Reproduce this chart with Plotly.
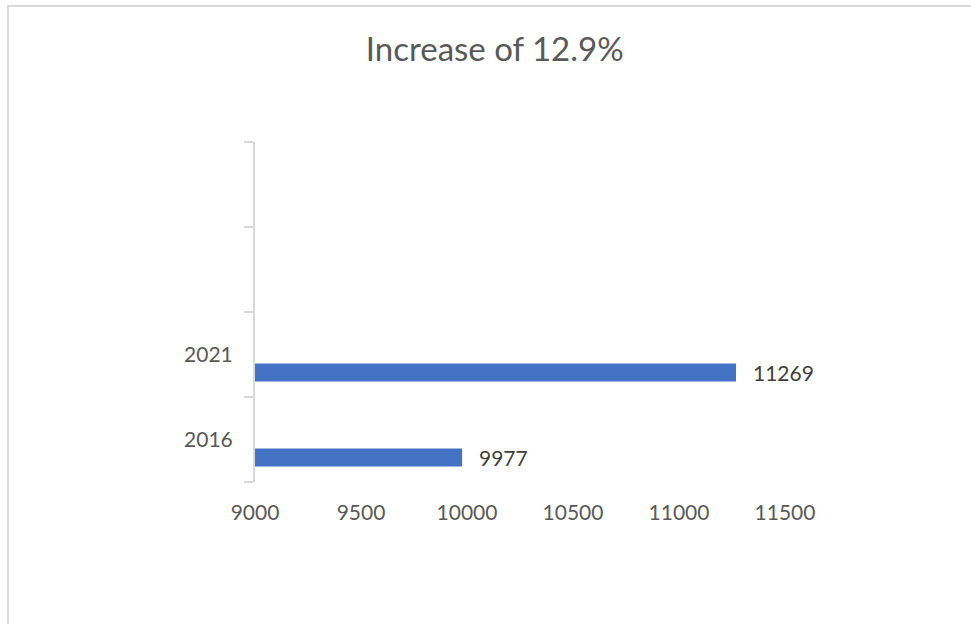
import plotly.graph_objects as go

# Category axis (bottom to top); the two top slots are unlabelled
categories = ["2016", "2021", " ", "  "]
years = ["2016", "2021"]
values = [9977, 11269]
x_ticks = [9000, 9500, 10000, 10500, 11000, 11500]
title_text = "Increase of 12.9%"

BAR_BLUE = "#4472C4"
AXIS_GRAY = "#D9D9D9"
TEXT_GRAY = "#595959"
LABEL_GRAY = "#404040"
FONT = "Lato"

BAR_WIDTH = 0.212
BAR_OFFSET = -0.318

fig = go.Figure()
fig.add_trace(go.Bar(
    x=values,
    y=years,
    orientation="h",
    marker=dict(color=BAR_BLUE, line=dict(width=0)),
    width=BAR_WIDTH,
    offset=BAR_OFFSET,
    hoverinfo="skip",
    cliponaxis=True,
))

# value labels to the right of each bar, centred on the bar
# (category axes place annotations by category index)
for yr, v in zip(years, values):
    fig.add_annotation(
        x=v, y=categories.index(yr) + BAR_OFFSET + BAR_WIDTH / 2,
        xref="x", yref="y",
        text=str(v), showarrow=False,
        xanchor="left", yanchor="middle",
        xshift=15,
        font=dict(family=FONT, size=21, color=LABEL_GRAY),
    )

# light frame around the chart area
fig.add_shape(
    type="rect", xref="paper", yref="paper",
    x0=(8 - 255) / 530, x1=(990 - 255) / 530,
    y0=-0.5, y1=1 + (142 - 6) / 340,
    line=dict(color=AXIS_GRAY, width=2), fillcolor="rgba(0,0,0,0)",
    layer="below",
)

fig.update_layout(
    width=971, height=624,
    margin=dict(l=255, r=186, t=142, b=142),
    paper_bgcolor="white", plot_bgcolor="white",
    showlegend=False,
    title=dict(
        text=title_text,
        x=494.7 / 971, xref="container", xanchor="center",
        y=1 - 49 / 624, yref="container", yanchor="middle",
        font=dict(family=FONT, size=33, color=TEXT_GRAY, weight=400),
    ),
    xaxis=dict(
        range=[9000, 11500],
        tickmode="array",
        tickvals=x_ticks,
        ticktext=[str(t) for t in x_ticks],
        showgrid=False, zeroline=False, showline=False,
        ticks="", ticklabelstandoff=16,
        tickfont=dict(family=FONT, size=21, color=TEXT_GRAY),
    ),
    yaxis=dict(
        type="category",
        categoryorder="array", categoryarray=categories,
        range=[-0.5, 3.5],
        showgrid=False, zeroline=False,
        showline=True, linecolor=AXIS_GRAY, linewidth=2,
        ticks="outside", ticklen=9, tickcolor=AXIS_GRAY, tickwidth=2,
        tickson="boundaries", ticklabelstandoff=16,
        tickfont=dict(family=FONT, size=21, color=TEXT_GRAY),
    ),
)

fig.write_html("out.html")
